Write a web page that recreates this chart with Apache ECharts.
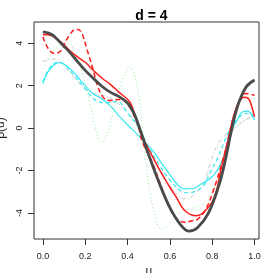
<!DOCTYPE html>
<html>
<head>
<meta charset="utf-8">
<script src="https://cdn.jsdelivr.net/npm/echarts@6/dist/echarts.min.js"></script>
<style>html,body{margin:0;padding:0;background:#fff;}#c{width:273px;height:273px;}</style>
</head>
<body>
<div id="c"></div>
<script>
// ---- data ----
const xTickMin = 0, xTickMax = 1, xTickStep = 0.2;
const yTickMin = -4, yTickMax = 4, yTickStep = 2;

const uBlack = [0, 0.04, 0.08, 0.12, 0.16, 0.2, 0.24, 0.28, 0.32, 0.36, 0.4, 0.43, 0.46, 0.5, 0.55, 0.6, 0.65, 0.69, 0.73, 0.78, 0.83, 0.86, 0.89, 0.92, 0.96, 1.0];
const vBlack = [4.53, 4.42, 4.06, 3.65, 3.18, 2.72, 2.33, 1.96, 1.68, 1.48, 1.18, 0.7, -0.1, -1.27, -2.6, -3.75, -4.55, -4.86, -4.7, -4.05, -2.75, -1.6, -0.15, 1.04, 1.94, 2.27];

const uRed = [0, 0.04, 0.08, 0.12, 0.16, 0.2, 0.24, 0.28, 0.32, 0.36, 0.41, 0.44, 0.47, 0.5, 0.55, 0.6, 0.63, 0.67, 0.72, 0.76, 0.81, 0.84, 0.87, 0.91, 0.95, 0.97, 0.985, 1.0];
const vRed = [4.41, 4.36, 4.1, 3.72, 3.38, 3.1, 2.7, 2.35, 2.05, 1.68, 1.24, 0.45, -0.4, -1.0, -1.95, -2.79, -3.26, -3.89, -4.13, -3.97, -3.26, -2.01, -0.78, 0.85, 1.45, 1.4, 1.08, 0.53];

const uRedDash = [0, 0.025, 0.055, 0.087, 0.12, 0.158, 0.18, 0.21, 0.236, 0.26, 0.29, 0.32, 0.36, 0.39, 0.42, 0.45, 0.47, 0.52, 0.567, 0.614, 0.669, 0.7, 0.73, 0.765, 0.8, 0.85, 0.9, 0.93, 0.96, 0.985, 1.0];
const vRedDash = [4.3, 3.75, 3.51, 3.67, 4.3, 4.66, 4.55, 3.65, 2.8, 1.94, 1.39, 1.3, 1.35, 1.25, 0.8, 0.1, -0.65, -1.69, -2.95, -4.05, -4.44, -4.38, -4.3, -3.9, -3.1, -1.5, 0.45, 1.24, 1.63, 1.58, 1.55];

const uCyan = [0, 0.024, 0.055, 0.079, 0.118, 0.158, 0.197, 0.236, 0.276, 0.315, 0.362, 0.41, 0.433, 0.47, 0.52, 0.56, 0.598, 0.635, 0.669, 0.71, 0.748, 0.78, 0.811, 0.84, 0.858, 0.882, 0.914, 0.945, 0.969, 0.985, 1.0];
const vCyan = [2.1, 2.65, 3.0, 3.09, 2.88, 2.49, 2.02, 1.63, 1.39, 1.08, 0.55, 0.05, -0.17, -0.55, -1.07, -1.65, -2.17, -2.65, -2.87, -2.85, -2.64, -2.45, -2.17, -1.7, -1.22, -0.28, 0.3, 0.77, 0.8, 0.65, 0.38];

const uCyanDash = [0, 0.03, 0.07, 0.1, 0.15, 0.2, 0.25, 0.3, 0.35, 0.4, 0.45, 0.5, 0.55, 0.6, 0.65, 0.68, 0.72, 0.76, 0.787, 0.827, 0.866, 0.9, 0.95, 0.98, 1.0];
const vCyanDash = [2.18, 2.8, 3.1, 3.0, 2.45, 1.85, 1.3, 1.2, 1.25, 0.7, 0.05, -0.9, -1.75, -2.45, -2.95, -3.05, -2.98, -2.7, -2.17, -1.38, -0.44, 0.2, 0.65, 0.7, 0.5];

const uGray = [0, 0.055, 0.118, 0.16, 0.2, 0.25, 0.3, 0.35, 0.4, 0.45, 0.5, 0.55, 0.6, 0.65, 0.67, 0.7, 0.756, 0.795, 0.827, 0.87, 0.906, 0.95, 1.0];
const vGray = [3.15, 3.25, 2.73, 2.25, 1.86, 1.6, 1.5, 1.2, 0.75, 0.08, -1.0, -1.95, -2.75, -3.28, -3.34, -3.26, -2.64, -1.54, -0.75, -0.25, 0.0, 0.35, 0.6];

const uGreen = [0, 0.04, 0.079, 0.11, 0.15, 0.189, 0.221, 0.245, 0.276, 0.31, 0.347, 0.386, 0.41, 0.433, 0.457, 0.472, 0.488, 0.504, 0.528, 0.559, 0.583, 0.622, 0.661, 0.7, 0.75, 0.8, 0.85, 0.9, 0.95, 1.0];
const vGreen = [2.8, 3.51, 3.9, 4.08, 3.59, 2.49, 1.24, 0.14, -0.68, -0.1, 1.39, 2.49, 2.88, 2.49, 1.24, -0.17, -1.54, -2.95, -4.05, -4.75, -4.68, -4.21, -3.89, -3.8, -3.6, -3.0, -1.6, -0.1, 0.3, 0.65];

function pairs(u, v) { return u.map((x, i) => [x, v[i]]); }

const FONT = 'Liberation Sans, Arial, Helvetica, sans-serif';
const chart = echarts.init(document.getElementById('c'), null, { renderer: 'canvas' });

// plot region (pixels) and data window
const L = 34, T = 22, R = 259, B = 239;
const XMIN = -0.042, XMAX = 1.021, YMIN = -5.23, YMAX = 5.0;
const sx = (R - L) / (XMAX - XMIN), sy = (B - T) / (YMAX - YMIN);
const x0px = L + (xTickMin - XMIN) * sx, x1px = L + (xTickMax - XMIN) * sx;
const y4px = T + (YMAX - yTickMax) * sy, ym4px = T + (YMAX - yTickMin) * sy;

function line(name, u, v, color, width, dash, z) {
  return {
    name, type: 'line', data: pairs(u, v), showSymbol: false, smooth: 0.4,
    xAxisIndex: 0, yAxisIndex: 0,
    lineStyle: { color, width, type: dash }, z, animation: false, clip: true
  };
}

const tickStyle = { color: '#333', width: 1 };
const labelStyle = { fontSize: 9, color: '#222', fontFamily: FONT };

chart.setOption({
  animation: false,
  backgroundColor: '#fff',
  title: {
    text: 'd = 4', left: (L + R) / 2, top: 4, textAlign: 'center',
    textStyle: { fontSize: 14, fontWeight: 'bold', color: '#000', fontFamily: FONT }
  },
  grid: [
    { left: L, top: T, width: R - L, height: B - T, show: true, borderColor: '#333', borderWidth: 1, containLabel: false, outerBoundsMode: 'none' },
    { left: x0px, top: T, width: x1px - x0px, height: B - T, show: false, containLabel: false, outerBoundsMode: 'none' },
    { left: L, top: y4px, width: R - L, height: ym4px - y4px, show: false, containLabel: false, outerBoundsMode: 'none' }
  ],
  xAxis: [
    { gridIndex: 0, type: 'value', min: XMIN, max: XMAX, show: false, axisLine: { onZero: false } },
    {
      gridIndex: 1, type: 'value', min: xTickMin, max: xTickMax, interval: xTickStep, position: 'bottom',
      name: 'u', nameLocation: 'middle', nameGap: 17,
      nameTextStyle: { fontSize: 12, color: '#222', fontFamily: FONT },
      axisLine: { show: false, onZero: false },
      axisTick: { show: true, inside: false, length: 6, lineStyle: tickStyle },
      axisLabel: Object.assign({ formatter: v => v.toFixed(1), margin: 13, showMinLabel: true, showMaxLabel: true, hideOverlap: false }, labelStyle),
      splitLine: { show: false }
    },
    { gridIndex: 2, type: 'value', min: XMIN, max: XMAX, show: false, axisLine: { onZero: false } }
  ],
  yAxis: [
    { gridIndex: 0, type: 'value', min: YMIN, max: YMAX, show: false, axisLine: { onZero: false } },
    { gridIndex: 1, type: 'value', min: YMIN, max: YMAX, show: false, axisLine: { onZero: false } },
    {
      gridIndex: 2, type: 'value', min: yTickMin, max: yTickMax, interval: yTickStep, position: 'left',
      name: 'β(u)', nameLocation: 'middle', nameGap: 16, nameRotate: 90,
      nameTextStyle: { fontSize: 12, color: '#222', fontFamily: FONT },
      axisLine: { show: false, onZero: false },
      axisTick: { show: true, inside: false, length: 6, lineStyle: tickStyle },
      axisLabel: Object.assign({ rotate: 90, margin: 10, showMinLabel: true, showMaxLabel: true, hideOverlap: false }, labelStyle),
      splitLine: { show: false }
    }
  ],
  series: [
    line('green', uGreen, vGreen, '#90ee90', 1, [1, 2.5], 1),
    line('gray', uGray, vGray, '#c8c8c8', 1, [4, 2, 1, 2], 2),
    line('cyanDash', uCyanDash, vCyanDash, '#33e8f0', 1.2, [4, 3], 3),
    line('cyan', uCyan, vCyan, '#33e8f0', 1.2, 'solid', 4),
    line('redDash', uRedDash, vRedDash, '#ff1a1a', 1.5, [5, 3], 5),
    line('red', uRed, vRed, '#ff1a1a', 1.5, 'solid', 6),
    line('black', uBlack, vBlack, '#4a4a4a', 2.8, 'solid', 7)
  ]
});
</script>
</body>
</html>
